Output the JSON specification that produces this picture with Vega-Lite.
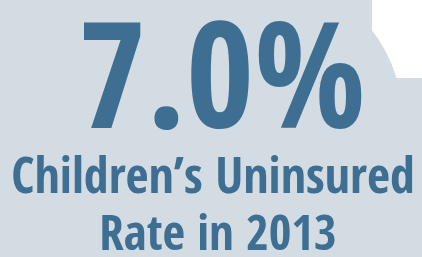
{
  "$schema": "https://vega.github.io/schema/vega-lite/v6.json",
  "width": 422,
  "height": 257,
  "autosize": "none",
  "padding": 0,
  "background": "#ffffff",
  "config": {"view": {"stroke": null}},
  "datasets": {
    "blob_rects": [
      {"x": 0, "x2": 372, "y": 0, "y2": 257},
      {"x": 0, "x2": 422, "y": 78, "y2": 257}
    ],
    "blob_circle": [{"x": 258, "y": 119}],
    "texts": [
      {"part": "rate", "value": 0.07},
      {"part": "line 1", "text": "Children’s Uninsured"},
      {"part": "line 2", "text": "Rate in 2013"}
    ]
  },
  "layer": [
    {
      "data": {"name": "blob_rects"},
      "mark": {"type": "rect", "color": "#d3dce2"},
      "encoding": {
        "x": {"field": "x", "type": "quantitative", "scale": {"domain": [0, 422], "nice": false}, "axis": null},
        "x2": {"field": "x2"},
        "y": {"field": "y", "type": "quantitative", "scale": {"domain": [0, 257], "nice": false, "reverse": true}, "axis": null},
        "y2": {"field": "y2"}
      }
    },
    {
      "data": {"name": "blob_circle"},
      "mark": {"type": "point", "shape": "circle", "filled": true, "opacity": 1, "color": "#d3dce2", "size": 83469},
      "encoding": {
        "x": {"field": "x", "type": "quantitative", "scale": {"domain": [0, 422], "nice": false}, "axis": null},
        "y": {"field": "y", "type": "quantitative", "scale": {"domain": [0, 257], "nice": false, "reverse": true}, "axis": null}
      }
    },
    {
      "data": {"name": "texts"},
      "transform": [{"filter": "datum.part === 'rate'"}],
      "mark": {"type": "text", "font": "Open Sans Condensed", "fontWeight": "bold", "fontSize": 147, "color": "#3f6e93", "align": "center", "baseline": "alphabetic", "dx": 11},
      "encoding": {
        "x": {"datum": "c", "type": "nominal", "scale": {"type": "point", "domain": ["c"]}, "axis": null},
        "y": {"field": "part", "type": "nominal", "scale": {"type": "point", "domain": ["rate", "line 1", "line 2"], "range": [128, 250], "padding": 0}, "axis": null},
        "text": {"field": "value", "type": "quantitative", "format": ".1%"}
      }
    },
    {
      "data": {"name": "texts"},
      "transform": [{"filter": "datum.part === 'line 1'"}],
      "mark": {"type": "text", "font": "Open Sans Condensed", "fontWeight": "bold", "fontSize": 50, "color": "#3f6e93", "align": "center", "baseline": "alphabetic", "dx": 2, "dy": 4},
      "encoding": {
        "x": {"datum": "c", "type": "nominal", "scale": {"type": "point", "domain": ["c"]}, "axis": null},
        "y": {"field": "part", "type": "nominal", "scale": {"type": "point", "domain": ["rate", "line 1", "line 2"], "range": [128, 250], "padding": 0}, "axis": null},
        "text": {"field": "text", "type": "nominal"}
      }
    },
    {
      "data": {"name": "texts"},
      "transform": [{"filter": "datum.part === 'line 2'"}],
      "mark": {"type": "text", "font": "Open Sans Condensed", "fontWeight": "bold", "fontSize": 49, "color": "#3f6e93", "align": "center", "baseline": "alphabetic", "dx": 7},
      "encoding": {
        "x": {"datum": "c", "type": "nominal", "scale": {"type": "point", "domain": ["c"]}, "axis": null},
        "y": {"field": "part", "type": "nominal", "scale": {"type": "point", "domain": ["rate", "line 1", "line 2"], "range": [128, 250], "padding": 0}, "axis": null},
        "text": {"field": "text", "type": "nominal"}
      }
    }
  ],
  "resolve": {"scale": {"x": "independent", "y": "independent"}}
}
